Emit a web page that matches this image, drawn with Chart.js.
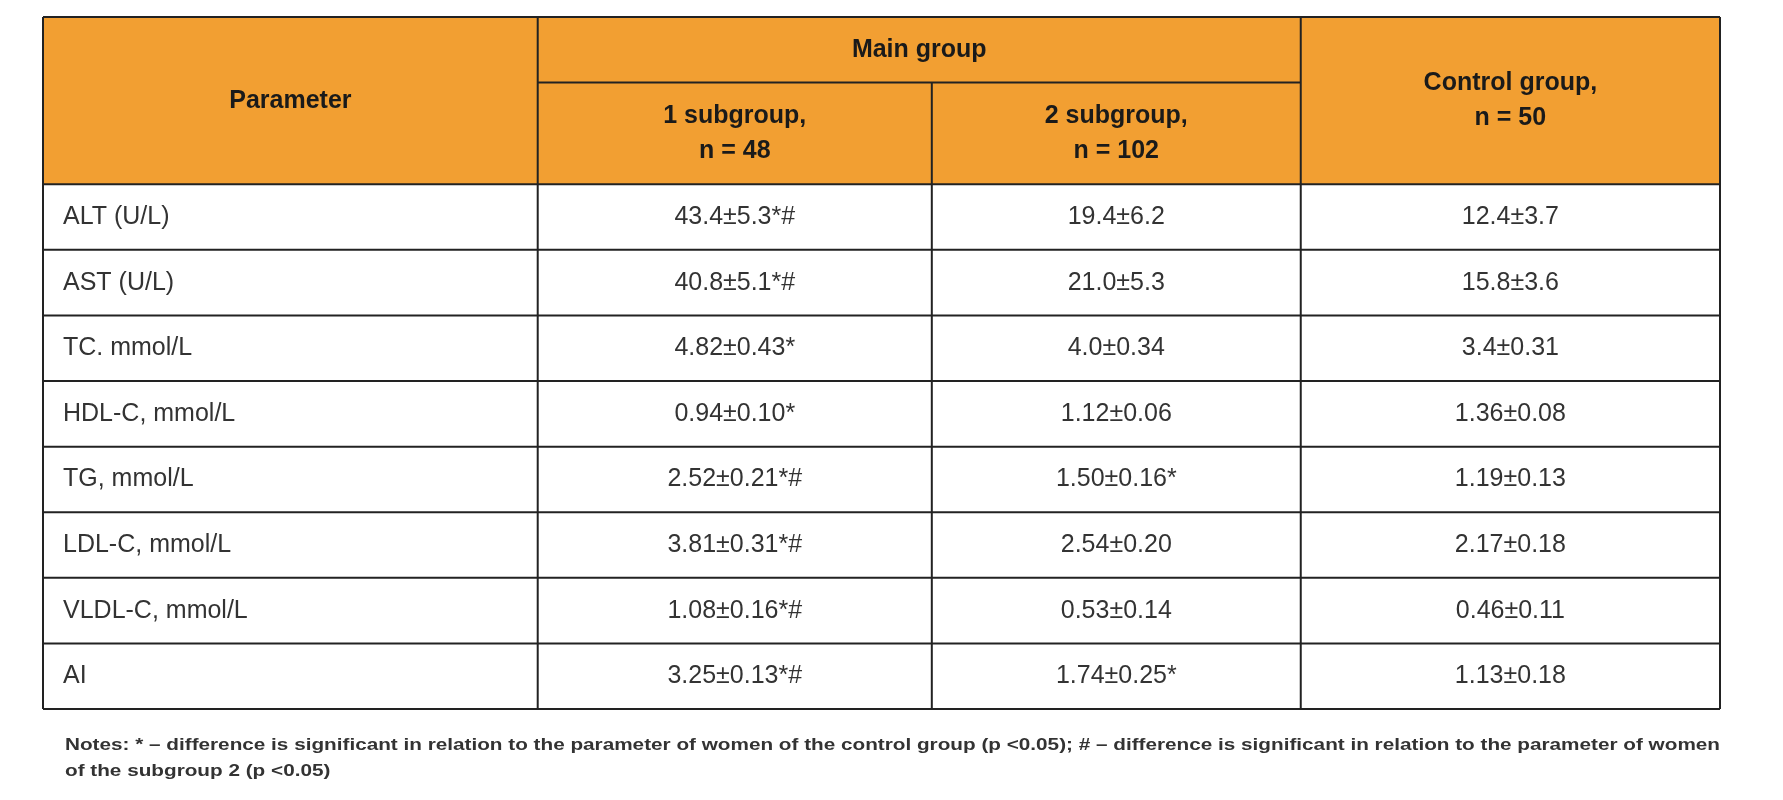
<!DOCTYPE html>
<html><head><meta charset="utf-8">
<script src="https://cdn.jsdelivr.net/npm/chart.js@4"></script>
<style>html,body{margin:0;padding:0;background:#fff}#wrap{width:1783px;height:800px}</style>
</head><body><div id="wrap"><canvas id="c" width="1783" height="800"></canvas></div>
<script>
const parameters = ["ALT (U/L)","AST (U/L)","TC. mmol/L","HDL-C, mmol/L","TG, mmol/L","LDL-C, mmol/L","VLDL-C, mmol/L","AI"];
const subgroup1 = ["43.4±5.3*#","40.8±5.1*#","4.82±0.43*","0.94±0.10*","2.52±0.21*#","3.81±0.31*#","1.08±0.16*#","3.25±0.13*#"];
const subgroup2 = ["19.4±6.2","21.0±5.3","4.0±0.34","1.12±0.06","1.50±0.16*","2.54±0.20","0.53±0.14","1.74±0.25*"];
const control = ["12.4±3.7","15.8±3.6","3.4±0.31","1.36±0.08","1.19±0.13","2.17±0.18","0.46±0.11","1.13±0.18"];
const headerParam = "Parameter";
const headerMain = "Main group";
const headerSub1 = ["1 subgroup,","n = 48"];
const headerSub2 = ["2 subgroup,","n = 102"];
const headerControl = ["Control group,","n = 50"];
const notes = ["Notes: * – difference is significant in relation to the parameter of women of the control group (p <0.05); # – difference is significant in relation to the parameter of women",
               "of the subgroup 2 (p <0.05)"];
// column edges in table units (0..100)
const colEdges = [0, 29.5, 53.0, 75.0, 100];
const headerRows = 2.55, headerSplit = 1.0;

const tablePlugin = {
  id:'table',
  afterDraw(chart){
    const ctx = chart.ctx, xs = chart.scales.x, ys = chart.scales.y;
    const X = v=>xs.getPixelForValue(v), Y = v=>ys.getPixelForValue(v);
    const nR = parameters.length, total = headerRows + nR;
    ctx.save();
    // header fill
    ctx.fillStyle = '#F29F32';
    ctx.fillRect(X(0), Y(0), X(100)-X(0), Y(headerRows)-Y(0));
    // lines
    ctx.strokeStyle = '#222'; ctx.lineWidth = 2;
    const line=(x1,y1,x2,y2)=>{ctx.beginPath();ctx.moveTo(x1,y1);ctx.lineTo(x2,y2);ctx.stroke();};
    line(X(0),Y(0),X(100),Y(0));
    line(X(colEdges[1]),Y(headerSplit),X(colEdges[3]),Y(headerSplit));
    for(let r=0;r<=nR;r++) line(X(0),Y(headerRows+r),X(100),Y(headerRows+r));
    line(X(0),Y(0),X(0),Y(total)); line(X(100),Y(0),X(100),Y(total));
    line(X(colEdges[1]),Y(0),X(colEdges[1]),Y(total));
    line(X(colEdges[3]),Y(0),X(colEdges[3]),Y(total));
    line(X(colEdges[2]),Y(headerSplit),X(colEdges[2]),Y(total));
    // header text
    ctx.fillStyle = '#1a1a1a'; ctx.textAlign='center'; ctx.textBaseline='middle';
    ctx.font = 'bold 25px "Liberation Sans", Arial, sans-serif';
    const cx=i=>(X(colEdges[i])+X(colEdges[i+1]))/2;
    const lines=(arr,x,yc)=>{const h=35;arr.forEach((t,k)=>ctx.fillText(t,x,yc+(k-(arr.length-1)/2)*h));};
    ctx.fillText(headerParam, cx(0), (Y(0)+Y(headerRows))/2);
    ctx.fillText(headerMain, (X(colEdges[1])+X(colEdges[3]))/2, (Y(0)+Y(headerSplit))/2);
    lines(headerSub1, cx(1), (Y(headerSplit)+Y(headerRows))/2);
    lines(headerSub2, cx(2), (Y(headerSplit)+Y(headerRows))/2);
    lines(headerControl, cx(3), (Y(0)+Y(headerRows))/2);
    // body
    ctx.font = '25px "Liberation Sans", Arial, sans-serif'; ctx.fillStyle='#333';
    for(let r=0;r<nR;r++){
      const yc=(Y(headerRows+r)+Y(headerRows+r+1))/2;
      ctx.textAlign='left'; ctx.fillText(parameters[r], X(0)+20, yc);
      ctx.textAlign='center';
      ctx.fillText(subgroup1[r], cx(1), yc);
      ctx.fillText(subgroup2[r], cx(2), yc);
      ctx.fillText(control[r], cx(3), yc);
    }
    // notes
    ctx.font = 'bold 17px "Liberation Sans", Arial, sans-serif'; ctx.fillStyle='#333'; ctx.textAlign='left';
    const x0 = X(0)+22, wTarget = X(100)-x0;
    const s = wTarget/ctx.measureText(notes[0]).width;
    notes.forEach((t,k)=>{
      ctx.save(); ctx.translate(x0, Y(total)+36+k*26); ctx.scale(s,1); ctx.fillText(t,0,0); ctx.restore();
    });
    ctx.restore();
  }
};

new Chart(document.getElementById('c'),{
  type:'scatter',
  data:{datasets:[{data:[],pointRadius:0}]},
  options:{
    responsive:false, animation:false, events:[],
    layout:{padding:{left:43,right:63,top:17,bottom:91}},
    plugins:{legend:{display:false},tooltip:{enabled:false}},
    scales:{
      x:{type:'linear',min:0,max:100,display:false},
      y:{type:'linear',min:0,max:headerRows+parameters.length,reverse:true,display:false}
    }
  },
  plugins:[tablePlugin]
});
</script></body></html>
